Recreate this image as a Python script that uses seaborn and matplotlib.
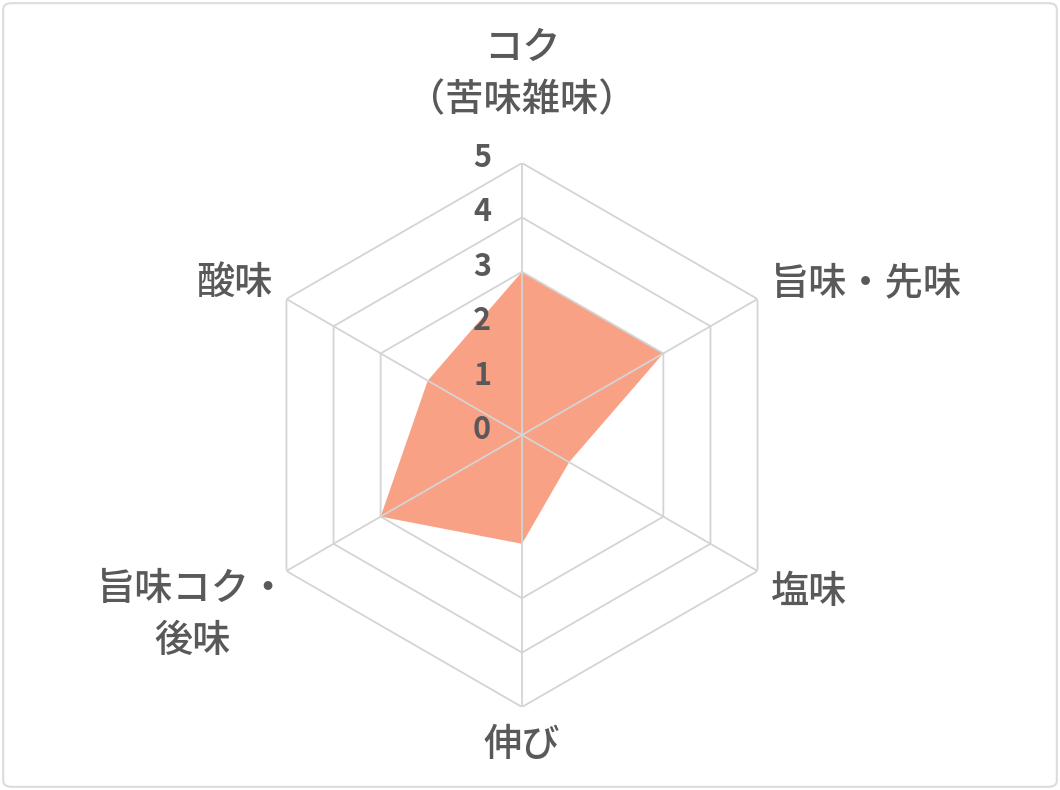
import numpy as np
import matplotlib
matplotlib.use("Agg")
import matplotlib.pyplot as plt
from matplotlib.patches import FancyBboxPatch
import seaborn as sns

# ---- data ----
categories = ["コク\n（苦味雑味）", "旨味・先味", "塩味", "伸び", "旨味コク・\n後味", "酸味"]
values = [3, 3, 1, 2, 3, 2]
levels = [0, 1, 2, 3, 4, 5]
tick_labels = ["0", "1", "2", "3", "4", "5"]
grid_levels = [3, 4, 5]

sns.set_theme(style="white")
plt.rcParams["font.family"] = ["Noto Sans CJK JP", "DejaVu Sans"]

TEXT = "#595959"
GRID = "#d4d4d4"
FILL = "#f9a184"

fig = plt.figure(figsize=(10.6, 7.9), dpi=100)
# rounded light border
border = FancyBboxPatch((0.003, 0.004), 0.994, 0.992,
                        boxstyle="round,pad=0,rounding_size=0.008",
                        transform=fig.transFigure, fill=False,
                        edgecolor="#dcdcdc", linewidth=1.5)
fig.patches.append(border)

cx, cy, R = 522, 435, 272
W, H = 1060, 790
ax = fig.add_axes([(cx - R) / W, (H - cy - R) / H, 2 * R / W, 2 * R / H],
                  projection="polar")
ax.set_theta_offset(np.pi / 2)
ax.set_theta_direction(-1)
ax.set_ylim(0, levels[-1])
ax.grid(False)
ax.spines["polar"].set_visible(False)
ax.set_xticks([])
ax.set_yticks([])
ax.patch.set_alpha(0)

n = len(categories)
angles = np.linspace(0, 2 * np.pi, n, endpoint=False)
closed = np.concatenate([angles, angles[:1]])

# data polygon
vals = np.array(values + values[:1], dtype=float)
ax.fill(closed, vals, color=FILL, zorder=1, linewidth=0)

# hexagonal grid
for lv in grid_levels:
    ax.plot(closed, [lv] * (n + 1), color=GRID, linewidth=1.3, zorder=2)
for a in angles:
    ax.plot([a, a], [0, levels[-1]], color=GRID, linewidth=1.3, zorder=2)

# radial tick labels
for lv, lab in zip(levels, tick_labels):
    ax.annotate(lab, xy=(0, lv), xytext=(-40, 5), textcoords="offset pixels",
                ha="center", va="center", fontsize=22, fontweight="bold",
                color=TEXT, annotation_clip=False)

# category labels
offsets = [((0, 89), "center", "center"),
           ((13, 16), "left", "center"),
           ((13, -21), "left", "center"),
           ((0, -38), "center", "center"),
           ((2, -44), "right", "center"),
           ((-14, 16), "right", "center")]
for a, lab, (off, ha, va) in zip(angles, categories, offsets):
    ax.annotate(lab, xy=(a, levels[-1]), xytext=off, textcoords="offset pixels",
                ha=ha, va=va, multialignment="center", fontsize=27.5,
                fontweight="medium", color=TEXT, linespacing=1.38,
                annotation_clip=False)

fig.savefig("out.png", dpi=100, facecolor="white")
